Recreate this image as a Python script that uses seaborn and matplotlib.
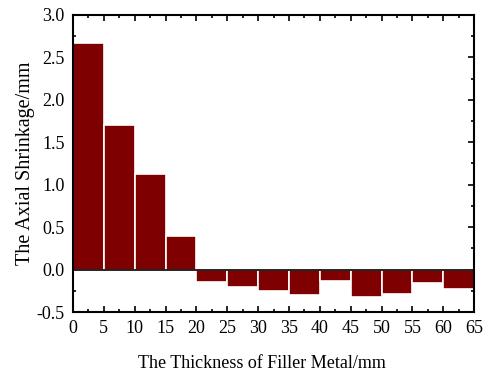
import numpy as np
import pandas as pd
import matplotlib
matplotlib.use('Agg')
import matplotlib.pyplot as plt
from matplotlib.ticker import MultipleLocator
import seaborn as sns

# thickness bins (centres) and measured axial shrinkage
thickness = [2.5, 7.5, 12.5, 17.5, 22.5, 27.5, 32.5, 37.5, 42.5, 47.5, 52.5, 57.5, 62.5]
shrinkage = [2.67, 1.70, 1.13, 0.40, -0.15, -0.20, -0.25, -0.30, -0.14, -0.32, -0.29, -0.16, -0.23]

df = pd.DataFrame({'thickness': thickness, 'shrinkage': shrinkage})

sns.set_style('ticks')
plt.rcParams['font.family'] = ['Liberation Serif', 'DejaVu Serif']
plt.rcParams['text.color'] = 'black'
plt.rcParams['axes.labelcolor'] = 'black'

fig = plt.figure(figsize=(4.96, 3.71), dpi=100)
ax = fig.add_axes([0.147, 0.159, 0.809, 0.801])

sns.barplot(data=df, x='thickness', y='shrinkage', native_scale=True,
            color='#7f0000', saturation=1, width=1.0,
            edgecolor='white', linewidth=1.2, ax=ax)

ax.axhline(0, color='black', lw=1.2, zorder=3)

ax.set_xlim(0, 65)
ax.set_ylim(-0.5, 3.0)
ax.xaxis.set_major_locator(MultipleLocator(5))
ax.xaxis.set_minor_locator(MultipleLocator(2.5))
ax.yaxis.set_major_locator(MultipleLocator(0.5))
ax.yaxis.set_minor_locator(MultipleLocator(0.25))
ax.yaxis.set_major_formatter(plt.FormatStrFormatter('%.1f'))

ax.tick_params(which='both', direction='in', top=True, right=True, width=1.2,
               colors='black', labelcolor='black')
ax.tick_params(which='major', length=4, labelsize=13, pad=6)
ax.tick_params(which='minor', length=2.5)
for s in ax.spines.values():
    s.set_linewidth(1.5)
    s.set_color('black')

ax.set_xlabel('The Thickness of Filler Metal/mm', fontsize=13)
ax.xaxis.set_label_coords(0.471, -0.145)
ax.set_ylabel('The Axial Shrinkage/mm', fontsize=14.5, labelpad=1)

fig.savefig('out.png', dpi=100)
